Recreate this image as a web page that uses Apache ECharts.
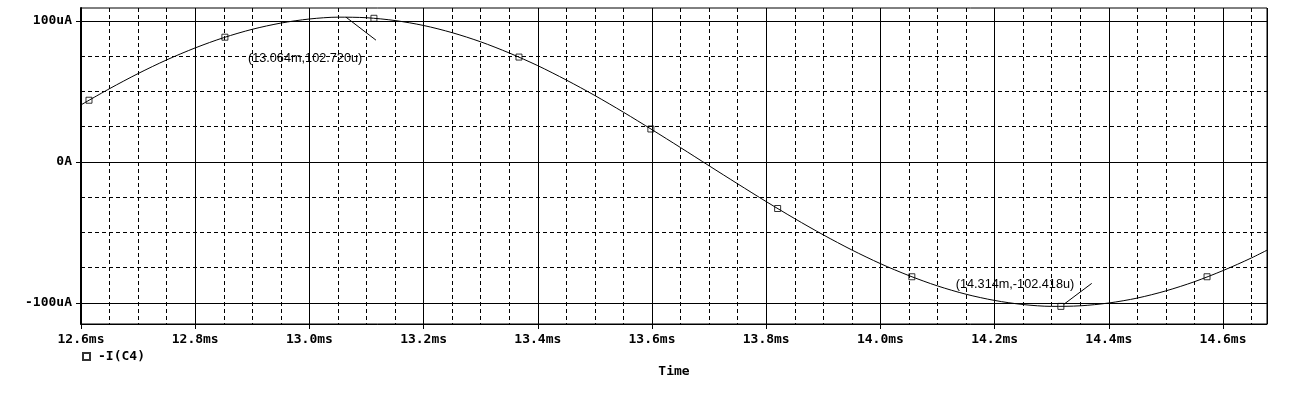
<!DOCTYPE html>
<html>
<head>
<meta charset="utf-8">
<script src="https://cdn.jsdelivr.net/npm/echarts@6/dist/echarts.min.js"></script>
<style>
html,body{margin:0;padding:0;background:#fff;}
#chart{width:1301px;height:399px;}
</style>
</head>
<body>
<div id="chart"></div>
<script>
// ---- data ----
const timeMs = [12.60,12.65,12.70,12.75,12.80,12.85,12.90,12.95,13.00,13.05,13.10,13.15,13.20,13.25,13.30,13.35,13.40,13.45,13.50,13.55,13.60,13.65,13.70,13.75,13.80,13.85,13.90,13.95,14.00,14.05,14.10,14.15,14.20,14.25,14.30,14.35,14.40,14.45,14.50,14.55,14.60,14.65,14.70];
const currentUA = [40.5,52.0,62.7,72.4,80.9,88.2,94.1,98.5,101.4,102.7,102.3,100.3,96.8,91.7,85.2,77.3,68.3,58.1,47.1,35.3,22.9,10.2,-2.7,-15.5,-28.1,-40.2,-51.7,-62.4,-72.1,-80.6,-87.9,-93.8,-98.2,-101.1,-102.4,-102.0,-100.0,-96.5,-91.4,-84.9,-77.0,-68.0,-57.8];
const markerTimeMs = [12.614,12.852,13.113,13.367,13.598,13.820,14.055,14.316,14.572];
const markerUA = [43.8,88.5,101.9,74.4,23.4,-33.0,-81.4,-102.4,-81.4];
const xTickLabels = ['12.6ms','12.8ms','13.0ms','13.2ms','13.4ms','13.6ms','13.8ms','14.0ms','14.2ms','14.4ms','14.6ms'];
const yMajorTicks = [-100,0,100];
const yTickLabels = ['-100uA','0A','100uA'];
const yMinorTicks = [-100,-75,-50,-25,0,25,50,75,100];
const annoTimeMs = [13.064,14.314];
const annoUA = [102.720,-102.418];
const annoText = ['(13.064m,102.720u)','(14.314m,-102.418u)'];
const seriesName = '-I(C4)';
const xName = 'Time';
const xMin = 12.6, xMax = 14.677, yMin = -114.9, yMax = 109.2;

// ---- chart ----
const chart = echarts.init(document.getElementById('chart'), null, {renderer:'canvas'});
const monoBold = {fontFamily:'DejaVu Sans Mono', fontWeight:'bold', fontSize:13, color:'#000'};
const dashed = {color:'#000', width:1, type:[4,3]};

const option = {
  animation:false,
  backgroundColor:'#fff',
  grid:{left:81, top:8, right:34, bottom:75, show:true, borderColor:'#000', borderWidth:1, backgroundColor:'transparent'},
  legend:{
    data:[{name:seriesName}],
    left:82, top:350, padding:0, itemWidth:7, itemHeight:7,
    textStyle:{...monoBold, padding:[0,0,0,3]}, selectedMode:false
  },
  xAxis:[
    {type:'value', min:xMin, max:xMax, interval:0.2, position:'bottom',
     name:xName, nameLocation:'middle', nameGap:41, nameTextStyle:monoBold,
     axisLine:{show:true, onZero:false, lineStyle:{color:'#000', width:1}},
     axisTick:{show:true, inside:false, length:5, lineStyle:{color:'#000'}},
     axisLabel:{show:true, margin:9, showMaxLabel:false, ...monoBold,
       formatter:(v, i)=> xTickLabels[i] || ''},
     splitLine:{show:true, lineStyle:{color:'#000', width:1, type:'solid'}},
     z:3},
    {type:'value', min:xMin, max:xMax, interval:0.05, position:'bottom',
     axisLine:{show:false}, axisTick:{show:false}, axisLabel:{show:false},
     splitLine:{show:true, lineStyle:dashed}, z:2}
  ],
  yAxis:[
    {type:'value', min:yMin, max:yMax, position:'left',
     axisLine:{show:true, onZero:false, lineStyle:{color:'#000', width:2}},
     axisTick:{show:true, inside:false, length:5, customValues:yMajorTicks, lineStyle:{color:'#000'}},
     axisLabel:{show:true, margin:9, customValues:yMajorTicks, ...monoBold,
       formatter:(v)=> yTickLabels[yMajorTicks.indexOf(Math.round(v))] || ''},
     splitLine:{show:true, lineStyle:{color:'#000', width:1, type:'solid'}},
     z:3},
    {type:'value', min:yMin, max:yMax, position:'left',
     axisLine:{show:false}, axisTick:{show:false, customValues:yMinorTicks}, axisLabel:{show:false, customValues:yMinorTicks},
     splitLine:{show:true, lineStyle:dashed}, z:2}
  ],
  series:[
    {name:'curve', type:'line', xAxisIndex:0, yAxisIndex:0,
     data: timeMs.map((t,i)=>[t, currentUA[i]]),
     symbol:'none', smooth:0.3, clip:true,
     lineStyle:{color:'#000', width:1}, z:5},
    {name:seriesName, type:'scatter', xAxisIndex:0, yAxisIndex:0,
     data: markerTimeMs.map((t,i)=>[t, markerUA[i]]),
     symbol:'rect', symbolSize:6,
     itemStyle:{color:'rgba(255,255,255,0)', borderColor:'#000', borderWidth:1}, z:6}
  ]
};
chart.setOption(option);

// annotations placed via the chart's own coordinate conversion
const annoStyle = [
  {line:[[0,0],[30,23]], text:[-98,41]},
  {line:[[4,-2],[32,-23]], text:[-104,-22]}
];
const graphics = [];
annoTimeMs.forEach((t,i)=>{
  const p = chart.convertToPixel({seriesIndex:0}, [t, annoUA[i]]);
  const s = annoStyle[i];
  graphics.push({type:'line', silent:true, z:10,
    shape:{x1:p[0]+s.line[0][0], y1:p[1]+s.line[0][1], x2:p[0]+s.line[1][0], y2:p[1]+s.line[1][1]},
    style:{stroke:'#000', lineWidth:1}});
  graphics.push({type:'text', silent:true, z:10,
    x:p[0]+s.text[0], y:p[1]+s.text[1],
    style:{text:annoText[i], fill:'#000', font:'12.7px "Liberation Sans"', verticalAlign:'middle', align:'left'}});
});
chart.setOption({graphic:graphics});
</script>
</body>
</html>
